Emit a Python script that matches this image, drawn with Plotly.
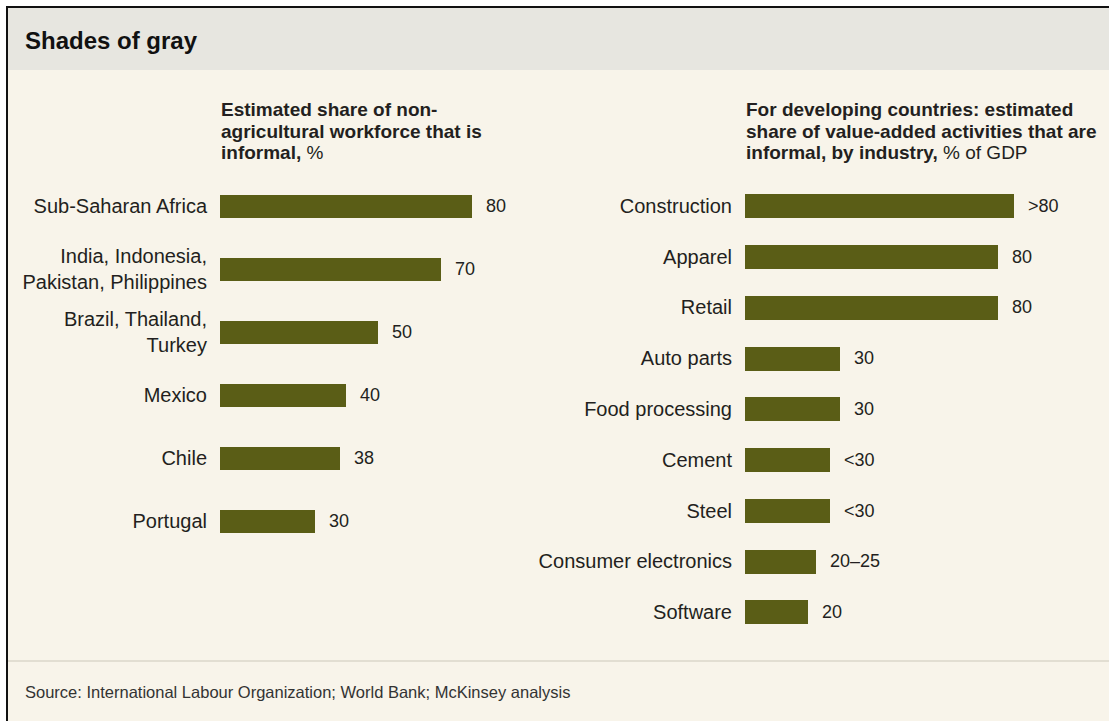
import plotly.graph_objects as go

W, H = 1109, 721

# ---- data ----
left_categories = ["Sub-Saharan Africa", "India, Indonesia,<br>Pakistan, Philippines",
                   "Brazil, Thailand,<br>Turkey", "Mexico", "Chile", "Portugal"]
left_values = [80, 70, 50, 40, 38, 30]
left_labels = ["80", "70", "50", "40", "38", "30"]

right_categories = ["Construction", "Apparel", "Retail", "Auto parts", "Food processing",
                    "Cement", "Steel", "Consumer electronics", "Software"]
right_values = [85, 80, 80, 30, 30, 27, 27, 22.5, 20]
right_labels = [">80", "80", "80", "30", "30", "<30", "<30", "20\u201325", "20"]

title = "Shades of gray"
left_header = ["<b>Estimated share of non-</b>", "<b>agricultural workforce that is</b>", "<b>informal,</b> %"]
right_header = ["<b>For developing countries: estimated</b>", "<b>share of value-added activities that are</b>",
                "<b>informal, by industry,</b> % of GDP"]
source = "Source: International Labour Organization; World Bank; McKinsey analysis"

# ---- style ----
BAR = "#5a5d16"
BG = "#f8f4ea"
HEAD = "#e7e6e0"
TXT = "#231f20"
FONT = "Liberation Sans, Arial, sans-serif"


def px(x):
    return x / W


def py(y):
    return 1 - y / H


fig = go.Figure()
fig.add_trace(go.Bar(x=left_values, y=left_categories, orientation="h", width=0.38,
                     marker=dict(color=BAR, line=dict(width=0)), xaxis="x", yaxis="y",
                     hoverinfo="skip"))
fig.add_trace(go.Bar(x=right_values, y=right_categories, orientation="h", width=0.473,
                     marker=dict(color=BAR, line=dict(width=0)), xaxis="x2", yaxis="y2",
                     hoverinfo="skip"))

annotations = []
for c, v, t in zip(left_categories, left_values, left_labels):
    annotations.append(dict(x=v, y=c, xref="x", yref="y", text=t, showarrow=False,
                            xanchor="left", xshift=12, font=dict(size=18, color=TXT, family=FONT)))
for c, v, t in zip(right_categories, right_values, right_labels):
    annotations.append(dict(x=v, y=c, xref="x2", yref="y2", text=t, showarrow=False,
                            xanchor="left", xshift=12, font=dict(size=18, color=TXT, family=FONT)))

for i, line in enumerate(left_header):
    annotations.append(dict(x=px(219), y=py(110 + 21 * i), xref="paper", yref="paper", text=line,
                            showarrow=False, xanchor="left", yanchor="middle",
                            font=dict(size=19, color=TXT, family=FONT)))
for i, line in enumerate(right_header):
    annotations.append(dict(x=px(744), y=py(110 + 21 * i), xref="paper", yref="paper", text=line,
                            showarrow=False, xanchor="left", yanchor="middle",
                            font=dict(size=19, color=TXT, family=FONT)))

annotations.append(dict(x=px(23), y=py(41), xref="paper", yref="paper", text="<b>" + title + "</b>",
                        showarrow=False, xanchor="left", yanchor="middle",
                        font=dict(size=24, color="#111111", family=FONT)))
annotations.append(dict(x=px(23), y=py(692), xref="paper", yref="paper", text=source,
                        showarrow=False, xanchor="left", yanchor="middle",
                        font=dict(size=16.5, color="#333333", family=FONT)))

shapes = [
    dict(type="rect", xref="paper", yref="paper", x0=0, x1=1, y0=py(6), y1=1,
         fillcolor="white", line=dict(width=0), layer="below"),
    dict(type="rect", xref="paper", yref="paper", x0=0, x1=px(6), y0=0, y1=1,
         fillcolor="white", line=dict(width=0), layer="below"),
    dict(type="rect", xref="paper", yref="paper", x0=px(8), x1=1, y0=py(70), y1=py(8),
         fillcolor=HEAD, line=dict(width=0), layer="below"),
    dict(type="line", xref="paper", yref="paper", x0=px(6), x1=1, y0=py(7), y1=py(7),
         line=dict(color="#111111", width=2)),
    dict(type="line", xref="paper", yref="paper", x0=px(7), x1=px(7), y0=0, y1=py(6),
         line=dict(color="#111111", width=2)),
    dict(type="line", xref="paper", yref="paper", x0=px(8), x1=1, y0=py(661), y1=py(661),
         line=dict(color="#e2ded2", width=2)),
]

left_scale = 3.15
right_scale = 3.16
fig.update_layout(
    width=W, height=H, margin=dict(l=0, r=0, t=0, b=0),
    paper_bgcolor=BG, plot_bgcolor="rgba(0,0,0,0)",
    showlegend=False, bargap=0,
    font=dict(family=FONT, color=TXT),
    xaxis=dict(domain=[px(220), px(540)], range=[0, 320 / left_scale], visible=False, fixedrange=True),
    yaxis=dict(domain=[py(552.5), py(174.5)], type="category", range=[5.5, -0.5],
               showgrid=False, zeroline=False, ticks="", showline=False,
               ticklabelstandoff=12, tickfont=dict(size=20, color=TXT, family=FONT),
               fixedrange=True, anchor="x"),
    xaxis2=dict(domain=[px(745), px(1105)], range=[0, 360 / right_scale], visible=False, fixedrange=True,
                anchor="y2"),
    yaxis2=dict(domain=[py(637.4), py(180.6)], type="category", range=[8.5, -0.5],
                showgrid=False, zeroline=False, ticks="", showline=False,
                ticklabelstandoff=12, tickfont=dict(size=20, color=TXT, family=FONT),
                fixedrange=True, anchor="x2"),
    annotations=annotations,
    shapes=shapes,
)

fig.write_html("out.html", config={"displayModeBar": False})
